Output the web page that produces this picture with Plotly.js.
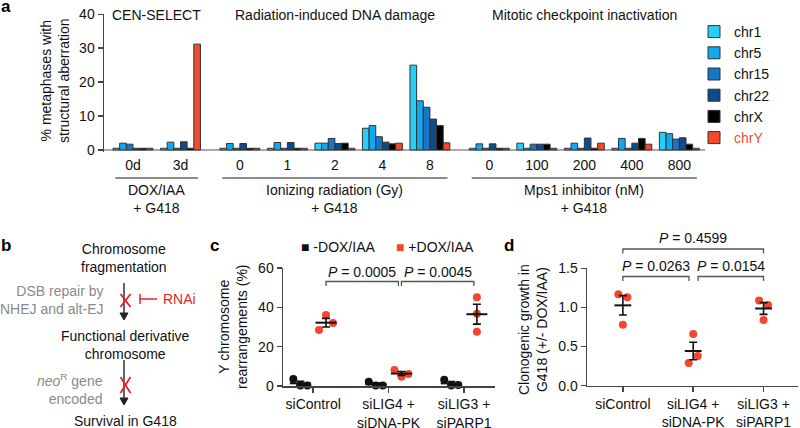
<!DOCTYPE html>
<html>
<head>
<meta charset="utf-8">
<script src="https://cdn.plot.ly/plotly-3.0.1.min.js"></script>
<style>html,body{margin:0;padding:0;background:#fff}</style>
</head>
<body>
<div id="fig" style="width:800px;height:428px"></div>
<script>
// ---- panel a ----
const sections = ['CEN-SELECT', 'Radiation-induced DNA damage', 'Mitotic checkpoint inactivation'];
const sectionLabels = ['DOX/IAA<br>+ G418', 'Ionizing radiation (Gy)<br>+ G418', 'Mps1 inhibitor (nM)<br>+ G418'];
const conditions = [['0d', '3d'], ['0', '1', '2', '4', '8'], ['0', '100', '200', '400', '800']];
const chromosomes = ['chr1', 'chr5', 'chr15', 'chr22', 'chrX', 'chrY'];
const chrColors = ['#25cff6', '#12a8ef', '#1676ca', '#0e4b88', '#000000', '#f24a2b'];

// % metaphases with structural aberration, one value per condition (12)
const chr1  = [0.5, 0.5, 0.5, 0.5, 2.0, 6.4, 25.0, 0.5, 2.0, 0.5, 0.5, 5.2];
const chr5  = [2.0, 2.3, 1.9, 2.2, 2.0, 7.2, 14.5, 1.8, 0.5, 2.0, 3.4, 4.8];
const chr15 = [1.7, 0.5, 0.5, 0.5, 3.4, 3.9, 12.6, 0.5, 1.7, 0.5, 0.5, 3.2];
const chr22 = [0.5, 2.4, 1.9, 2.2, 1.9, 2.3, 9.1, 1.8, 1.7, 3.5, 2.0, 3.6];
const chrX  = [0.5, 0.5, 0.5, 0.5, 2.0, 1.8, 7.2, 0.5, 1.7, 0.5, 3.4, 1.7];
const chrY  = [0.5, 31.2, 0.5, 0.5, 0.5, 2.0, 2.1, 0.5, 0.5, 2.0, 1.7, 0.5];
const chrValues = [chr1, chr5, chr15, chr22, chrX, chrY];

// ---- panel c / d ----
const groups = ['siControl', 'siLIG4 +<br>siDNA-PK', 'siLIG3 +<br>siPARP1'];
const seriesNames = ['-DOX/IAA', '+DOX/IAA'];
const seriesColors = ['#111111', '#f4452d'];
const minusDox = [[3.5, 0.3, 0.3], [2.2, 0.3, 0.3], [3.2, 0.3, 0.5]];
const plusDox  = [[28.5, 36.1, 32.0], [8.1, 4.7, 6.1], [45.1, 36.8, 27.6]];
const clonogenic = [[1.17, 0.78, 1.13], [0.29, 0.66, 0.38], [1.09, 0.84, 1.03]];
const pValuesC = ['0.0005', '0.0045'];
const pValuesD = ['0.0263', '0.0154', '0.4599'];

// pixel -> paper helpers
const W = 800, H = 428;
const px = x => x / W;
const py = y => 1 - y / H;
const FONT = 'Liberation Sans, Arial, Helvetica, sans-serif';

// positions of the bar groups: one unit per condition, extra gap between sections
const positions = [];
const sectionPos = [];
let cursor = 0;
conditions.forEach((conds) => {
    const list = [];
    conds.forEach(() => { list.push(cursor); positions.push(cursor); cursor += 1; });
    cursor += 0.25;
    sectionPos.push(list);
});
const tickText = conditions.flat();

const traces = [];
chromosomes.forEach((name, i) => {
    traces.push({
        type: 'bar', x: positions, y: chrValues[i],
        name: i === 5 ? '<span style="color:#f24a2b">' + name + '</span>' : name,
        marker: { color: chrColors[i], line: { color: '#333', width: 1 } },
        xaxis: 'x', yaxis: 'y'
    });
});

function mean(a) { return a.reduce((s, v) => s + v, 0) / a.length; }
function sem(a) {
    const m = mean(a);
    const v = a.reduce((s, x) => s + (x - m) * (x - m), 0) / (a.length - 1);
    return Math.sqrt(v / a.length);
}
// spread the dots sideways unless they are already well apart
function jitterX(vals, center, spread, range) {
    const s = [...vals].sort((a, b) => a - b);
    let minGap = Infinity;
    for (let i = 1; i < s.length; i++) minGap = Math.min(minGap, s[i] - s[i - 1]);
    const sp = minGap > 0.12 * range ? 0 : spread;
    return vals.map((v, i) => center + (i - (vals.length - 1) / 2) * sp);
}

function dotTraces(data, color, offset, spread, range, xa, ya, dotSize, barSize) {
    const xs = [], ys = [];
    data.forEach((vals, g) => {
        jitterX(vals, g + offset, spread, range).forEach(x => xs.push(x));
        vals.forEach(v => ys.push(v));
    });
    return [{
        type: 'scatter', mode: 'markers', x: xs, y: ys, xaxis: xa, yaxis: ya,
        marker: { color: color, size: dotSize }, cliponaxis: false, showlegend: false
    }, {
        type: 'scatter', mode: 'markers', xaxis: xa, yaxis: ya,
        x: data.map((v, g) => g + offset), y: data.map(mean),
        marker: { symbol: 'line-ew', size: barSize, line: { color: '#111', width: 2 } },
        error_y: { type: 'data', array: data.map(sem), width: 4, thickness: 1.6, color: '#111' },
        cliponaxis: false, showlegend: false
    }];
}

const offC = 0.17;
traces.push(...dotTraces(minusDox, seriesColors[0], -offC, 0.093, 60, 'x2', 'y2', 8, 15));
traces.push(...dotTraces(plusDox, seriesColors[1], offC, 0.093, 60, 'x2', 'y2', 8, 15));
traces.push(...dotTraces(clonogenic, seriesColors[1], 0, 0.064, 1.5, 'x3', 'y3', 8, 12));

const axisBase = {
    showgrid: false, zeroline: false, showline: true, linecolor: '#444', linewidth: 1.5,
    ticks: 'outside', ticklen: 5, tickwidth: 1.5, tickcolor: '#444',
    tickfont: { size: 14, color: '#111' }
};

const annotations = [];
const shapes = [];
const txt = (text, x, y, opts) => annotations.push(Object.assign({
    text: text, x: px(x), y: py(y), xref: 'paper', yref: 'paper', showarrow: false,
    xanchor: 'center', yanchor: 'middle',
    font: { size: 14, color: '#111' }
}, opts || {}));
const line = (x0, y0, x1, y1, color, width) => shapes.push({
    type: 'line', xref: 'paper', yref: 'paper', x0: px(x0), y0: py(y0), x1: px(x1), y1: py(y1),
    line: { color: color, width: width }
});
const arrowDown = (x, yTop, yTip) => {
    line(x, yTop, x, yTip - 6, '#222', 1.4);
    shapes.push({ type: 'path', xref: 'paper', yref: 'paper', fillcolor: '#222', line: { color: '#222', width: 1 },
        path: 'M' + px(x - 4) + ',' + py(yTip - 7) + ' L' + px(x + 4) + ',' + py(yTip - 7) + ' L' + px(x) + ',' + py(yTip) + ' Z' });
};

// panel letters
const letter = { size: 17, color: '#000' };
txt('<b>a</b>', 6, 7, { font: letter });
txt('<b>b</b>', 6, 245, { font: letter });
txt('<b>c</b>', 214, 245, { font: letter });
txt('<b>d</b>', 509, 245, { font: letter });

// panel a titles and brackets
txt('% metaphases with<br>structural aberration', 55, 81, { textangle: -90 });
sections.forEach((s, i) => {
    const p = sectionPos[i];
    const c = mean(p);
    annotations.push({ text: s, x: c, xref: 'x', y: py(15), yref: 'paper', showarrow: false,
        xanchor: 'center', yanchor: 'middle', font: { size: 14, color: '#111' } });
    annotations.push({ text: sectionLabels[i], x: c, xref: 'x', y: py(199), yref: 'paper', showarrow: false,
        xanchor: 'center', yanchor: 'middle', font: { size: 14, color: '#111' } });
    shapes.push({ type: 'line', xref: 'x', yref: 'paper', x0: p[0] - 0.37, x1: p[p.length - 1] + 0.37,
        y0: py(178), y1: py(178), line: { color: '#666', width: 1.5 } });
});

// panel b diagram
const grey = { size: 14, color: '#8a8a8a' };
txt('Chromosome<br>fragmentation', 124, 258);
txt('DSB repair by<br>NHEJ and alt-EJ', 105, 300, { xanchor: 'right', align: 'right', font: grey });
txt('Functional derivative<br>chromosome', 125, 345);
txt('<i>neo</i><sup>R</sup> gene<br>encoded', 105, 389, { xanchor: 'right', align: 'right', font: grey });
txt('Survival in G418', 125, 421);
txt('RNAi', 161, 299, { xanchor: 'left', font: { size: 14, color: '#e8212a' } });
arrowDown(124, 283, 320);
arrowDown(124, 360, 405);
line(120.5, 294, 130.5, 307, '#e8212a', 1.8);
line(130.5, 294, 120.5, 307, '#e8212a', 1.8);
line(120.5, 377, 130.5, 393, '#e8212a', 1.8);
line(130.5, 377, 120.5, 393, '#e8212a', 1.8);
line(140, 299, 157, 299, '#e8212a', 1.5);
line(140, 294, 140, 304, '#e8212a', 1.5);

// panel c titles, legend, brackets
txt('Y chromosome<br>rearrangements (%)', 233, 327, { textangle: -90 });
txt('<span style="color:' + seriesColors[0] + '">■</span> ' + seriesNames[0], 299, 247, { xanchor: 'left' });
txt('<span style="color:' + seriesColors[1] + '">■</span> ' + seriesNames[1], 394, 247, { xanchor: 'left' });
pValuesC.forEach((p, i) => {
    const x0 = i + offC, x1 = i + 1 + offC - 0.04;
    shapes.push({ type: 'path', xref: 'x2', yref: 'paper',
        path: 'M' + x0 + ',' + py(286) + ' L' + x0 + ',' + py(281.5) + ' L' + x1 + ',' + py(281.5) + ' L' + x1 + ',' + py(286),
        line: { color: '#555', width: 1.3 } });
    annotations.push({ text: '<i>P</i> = ' + p, x: (x0 + x1) / 2, xref: 'x2', y: py(272), yref: 'paper',
        showarrow: false, xanchor: 'center', yanchor: 'middle', font: { size: 14, color: '#111' } });
});

// panel d titles, brackets
txt('Clonogenic growth in<br>G418 (+/- DOX/IAA)', 533, 330, { textangle: -90 });
const bracketsD = [[0, 0.94, 276.5], [1.07, 2, 276.5], [0, 2, 249]];
pValuesD.forEach((p, i) => {
    const [x0, x1, y] = bracketsD[i];
    shapes.push({ type: 'path', xref: 'x3', yref: 'paper',
        path: 'M' + x0 + ',' + py(y + 4.5) + ' L' + x0 + ',' + py(y) + ' L' + x1 + ',' + py(y) + ' L' + x1 + ',' + py(y + 4.5),
        line: { color: '#555', width: 1.3 } });
    annotations.push({ text: '<i>P</i> = ' + p, x: (x0 + x1) / 2, xref: 'x3', y: py(y - 11), yref: 'paper',
        showarrow: false, xanchor: 'center', yanchor: 'middle', font: { size: 14, color: '#111' } });
});

const layout = {
    width: W, height: H,
    margin: { l: 0, r: 0, t: 0, b: 0 },
    paper_bgcolor: '#fff', plot_bgcolor: 'rgba(0,0,0,0)',
    font: { family: FONT, size: 14, color: '#111' },
    barmode: 'group', bargap: 0.16, bargroupgap: 0,
    showlegend: true,
    legend: { x: px(694), xanchor: 'left', y: py(16), yanchor: 'top', font: { size: 14 },
        itemwidth: 30, bgcolor: 'rgba(0,0,0,0)' },
    xaxis: { domain: [px(104), px(705)], range: [-0.61, 12.04], anchor: 'y',
        tickvals: positions, ticktext: tickText, showline: false, ticks: '', showgrid: false,
        zeroline: false, ticklabelstandoff: 3, tickfont: { size: 14, color: '#111' } },
    yaxis: Object.assign({}, axisBase, { domain: [py(152), py(14.3)], range: [-0.6, 40], anchor: 'x',
        tickvals: [0, 10, 20, 30, 40], zeroline: true, zerolinecolor: '#aaa', zerolinewidth: 1.5 }),
    xaxis2: Object.assign({}, axisBase, { domain: [px(283), px(495)], range: [-0.4, 2.41], anchor: 'y2',
        tickvals: [0, 1, 2], ticktext: groups }),
    yaxis2: Object.assign({}, axisBase, { domain: [py(386), py(268)], range: [0, 60], anchor: 'x2',
        tickvals: [0, 20, 40, 60] }),
    xaxis3: Object.assign({}, axisBase, { domain: [px(587), px(798)], range: [-0.51, 2.49], anchor: 'y3',
        tickvals: [0, 1, 2], ticktext: groups }),
    yaxis3: Object.assign({}, axisBase, { domain: [py(385.7), py(268.3)], range: [0, 1.5], anchor: 'x3',
        tickvals: [0, 0.5, 1, 1.5], tickformat: '.1f' }),
    annotations: annotations,
    shapes: shapes
};

Plotly.newPlot('fig', traces, layout, { staticPlot: true, displayModeBar: false });
</script>
</body>
</html>
